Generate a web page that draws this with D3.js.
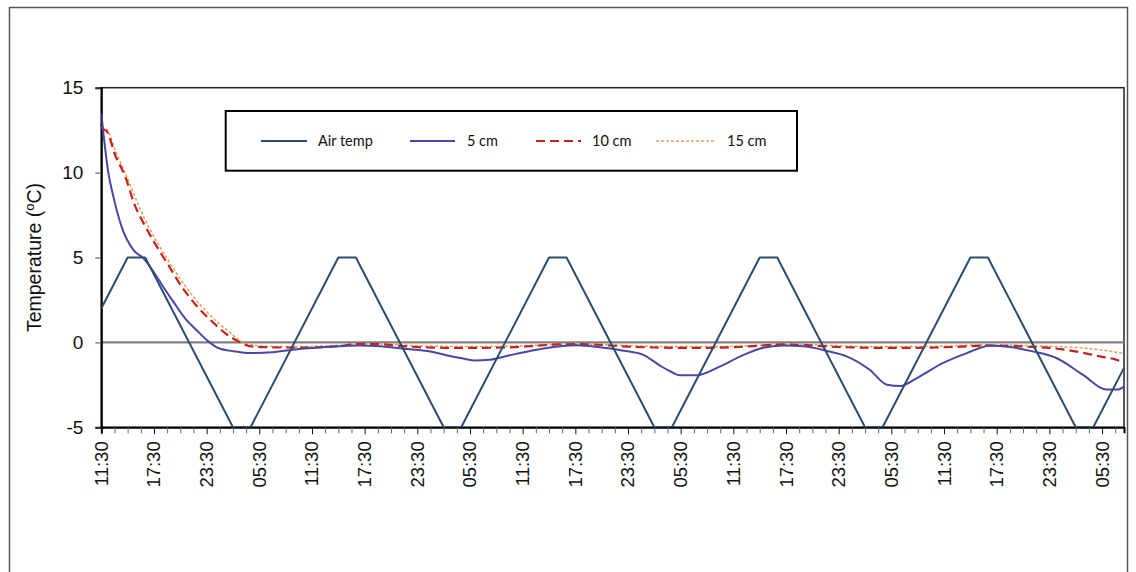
<!DOCTYPE html>
<html>
<head>
<meta charset="utf-8">
<script src="https://cdn.jsdelivr.net/npm/d3@7"></script>
<style>
  html, body { margin: 0; padding: 0; background: #fff; }
  svg { display: block; }
</style>
</head>
<body>
<svg id="chart" width="1136" height="572"></svg>
<script>
// ---------- DATA (hours since 11:30 on day 1, °C) ----------
const tickLabels = ["11:30","17:30","23:30","05:30","11:30","17:30","23:30","05:30","11:30","17:30",
                    "23:30","05:30","11:30","17:30","23:30","05:30","11:30","17:30","23:30","05:30"];
const yTicks = [15, 10, 5, 0, -5];
const seriesNames = ["Air temp", "5 cm", "10 cm", "15 cm"];

const airTemp = [[0,2],[3,5],[5,5],[15,-5],[17,-5],[27,5],[29,5],[39,-5],[41,-5],[51,5],[53,5],
  [63,-5],[65,-5],[75,5],[77,5],[87,-5],[89,-5],[99,5],[101,5],[111,-5],[113,-5],[116.5,-1.5]];

const soil5 = [[0,13.5],[0.42,11.5],[0.8,10.0],[1.37,8.6],[2.32,6.8],[3.65,5.45],[4.78,4.96],[6.31,3.88],
  [6.9,3.4],[8.2,2.4],[9.5,1.45],[10.9,0.7],[12.2,0.06],[13.3,-0.33],[15.2,-0.53],[17,-0.63],[19.5,-0.58],
  [22.3,-0.4],[26,-0.25],[29.5,-0.18],[31.8,-0.23],[34.4,-0.37],[37.5,-0.53],[39.3,-0.76],[41.2,-0.95],
  [42.4,-1.06],[44.3,-1.02],[46.5,-0.76],[49.6,-0.43],[52.3,-0.23],[54.2,-0.17],[56.8,-0.29],[59.5,-0.49],
  [61.7,-0.72],[63.6,-1.35],[64.8,-1.7],[65.9,-1.94],[67.8,-1.94],[70.5,-1.41],[72.8,-0.82],[75,-0.37],
  [77.7,-0.18],[80,-0.23],[82.6,-0.49],[84.9,-0.82],[87.5,-1.6],[89.5,-2.49],[91,-2.57],[92.9,-2.1],
  [95.9,-1.21],[98.6,-0.63],[101.2,-0.19],[103.5,-0.27],[106.1,-0.53],[108.8,-0.92],[111.8,-1.9],
  [114.5,-2.78],[115.7,-2.78],[116.5,-2.6]];

const soil10 = [[0,12.6],[0.6,12.45],[1.6,11.0],[2.7,9.8],[3.8,8.1],[5.0,6.85],[6.2,5.75],[7.7,4.5],
  [9.2,3.25],[10.7,2.25],[12.6,1.24],[14.1,0.55],[15.6,0.06],[17.1,-0.24],[18.5,-0.28],[21,-0.3],[24,-0.3],
  [27,-0.22],[29.5,-0.08],[31.5,-0.1],[34,-0.2],[37,-0.3],[40,-0.32],[43,-0.32],[46,-0.3],[49,-0.22],
  [52,-0.12],[54.5,-0.1],[57,-0.15],[60,-0.25],[63,-0.3],[66,-0.32],[69,-0.32],[72,-0.28],[75,-0.2],
  [77.5,-0.12],[80,-0.15],[83,-0.25],[86,-0.3],[89,-0.32],[92,-0.32],[95,-0.3],[98,-0.25],[101,-0.18],
  [103.5,-0.2],[106,-0.27],[108,-0.32],[110,-0.45],[112,-0.63],[114,-0.85],[115.5,-1.0],[116.5,-1.2]];

const soil15 = [[0,12.65],[0.6,12.55],[1.6,11.3],[2.7,10.0],[5.0,7.2],[7.6,4.85],[10.7,2.55],[12.6,1.5],
  [14.5,0.65],[16.4,-0.04],[19,-0.24],[22,-0.25],[25,-0.22],[28,-0.15],[30.5,-0.08],[33,-0.12],[36,-0.2],
  [40,-0.24],[44,-0.25],[48,-0.2],[52,-0.12],[55,-0.1],[58,-0.15],[62,-0.22],[66,-0.25],[70,-0.25],
  [74,-0.2],[77,-0.12],[80,-0.12],[84,-0.2],[88,-0.25],[92,-0.25],[96,-0.22],[100,-0.15],[103,-0.15],
  [106,-0.2],[109,-0.25],[111.8,-0.33],[114,-0.45],[116.5,-0.66]];

// ---------- LAYOUT ----------
const svg = d3.select("#chart");
const L = 101.3, R = 1124, T = 87.7, B = 427.3;
const x = d3.scaleLinear().domain([0, 116.5]).range([L, R]);
const y = d3.scaleLinear().domain([-5, 15]).range([B, T]);
const axisFont = "'Liberation Sans', Arial, sans-serif";

// outer frame
svg.append("rect").attr("x", 9.5).attr("y", 7.5).attr("width", 1118).attr("height", 572)
  .attr("fill", "none").attr("stroke", "#555").attr("stroke-width", 1.5);

// plot border (top/right)
svg.append("rect").attr("x", L).attr("y", T).attr("width", R - L).attr("height", B - T)
  .attr("fill", "none").attr("stroke", "#222").attr("stroke-width", 1.5);

// zero line
svg.append("line").attr("x1", L).attr("x2", R).attr("y1", y(0)).attr("y2", y(0))
  .attr("stroke", "#808080").attr("stroke-width", 2.2);

// y axis
const yAxis = d3.axisLeft(y).tickValues(yTicks).tickSize(6).tickPadding(12).tickFormat(d => String(d));
const gy = svg.append("g").attr("transform", `translate(${L},0)`).call(yAxis);
gy.select(".domain").attr("stroke", "#000").attr("stroke-width", 2);
gy.selectAll(".tick line").attr("stroke", "#444");
gy.selectAll("text").attr("font-family", axisFont).attr("font-size", 19).attr("fill", "#111");

// x axis: minor ticks every 1.5 h, labels every 6 h
const minorTicks = d3.range(0, 116.6, 1.5);
const xAxis = d3.axisBottom(x).tickValues(minorTicks).tickSize(6).tickFormat("");
const gx = svg.append("g").attr("transform", `translate(0,${B})`).call(xAxis);
gx.select(".domain").attr("stroke", "#000").attr("stroke-width", 2);
gx.selectAll(".tick line").attr("stroke", (d) => (d % 6 === 0 ? "#111" : "#666"))
  .attr("y2", (d) => (d % 6 === 0 ? 7 : 6));

svg.append("g").selectAll("text").data(tickLabels).join("text")
  .attr("transform", (d, i) => `translate(${x(i * 6)},${B + 14}) rotate(-90)`)
  .attr("text-anchor", "end").attr("dy", "0.35em")
  .attr("font-family", axisFont).attr("font-size", 18.5).attr("fill", "#111")
  .text(d => d);

// y axis title
const yt = svg.append("text")
  .attr("transform", `translate(41,${(T + B) / 2}) rotate(-90)`)
  .attr("text-anchor", "middle").attr("font-family", axisFont).attr("font-size", 19.5).attr("fill", "#111");
yt.append("tspan").text("Temperature (");
yt.append("tspan").attr("font-size", 13).attr("dy", -7).text("o");
yt.append("tspan").attr("dy", 7).text("C)");

// ---------- SERIES ----------
const clip = svg.append("clipPath").attr("id", "plotclip").append("rect")
  .attr("x", L).attr("y", T - 2).attr("width", R - L + 1).attr("height", B - T + 2);

const lineLin = d3.line().x(d => x(d[0])).y(d => y(d[1]));
const lineSmooth = d3.line().x(d => x(d[0])).y(d => y(d[1])).curve(d3.curveMonotoneX);

const styles = [
  { data: airTemp, color: "#2B4E70", width: 2, dash: null, gen: lineLin },
  { data: soil5, color: "#4A46A6", width: 2, dash: null, gen: lineSmooth },
  { data: soil10, color: "#C8201C", width: 2.2, dash: "9,5", gen: lineSmooth },
  { data: soil15, color: "#DDA463", width: 1.6, dash: "3,2", gen: lineSmooth }
];

const gs = svg.append("g").attr("clip-path", "url(#plotclip)");
[3, 2, 1, 0].forEach(i => {
  const s = styles[i];
  gs.append("path").attr("d", s.gen(s.data)).attr("fill", "none")
    .attr("stroke", s.color).attr("stroke-width", s.width)
    .attr("stroke-dasharray", s.dash).attr("stroke-linejoin", "round");
});

// ---------- LEGEND ----------
const lg = svg.append("g");
lg.append("rect").attr("x", 225.7).attr("y", 111).attr("width", 571.3).attr("height", 59.7)
  .attr("fill", "#fff").attr("stroke", "#000").attr("stroke-width", 2);
const legendPos = [
  { x1: 261, x2: 307, tx: 318 },
  { x1: 410, x2: 455, tx: 467 },
  { x1: 536, x2: 581, tx: 592 },
  { x1: 656, x2: 716, tx: 727 }
];
seriesNames.forEach((name, i) => {
  const p = legendPos[i], s = styles[i];
  lg.append("line").attr("x1", p.x1).attr("x2", p.x2).attr("y1", 141).attr("y2", 141)
    .attr("stroke", s.color).attr("stroke-width", s.width).attr("stroke-dasharray", s.dash);
  lg.append("text").attr("x", p.tx).attr("y", 141).attr("dy", "0.35em")
    .attr("font-family", "Lato, 'Open Sans', sans-serif").attr("font-size", 14.5).attr("fill", "#111")
    .text(name);
});
</script>
</body>
</html>
